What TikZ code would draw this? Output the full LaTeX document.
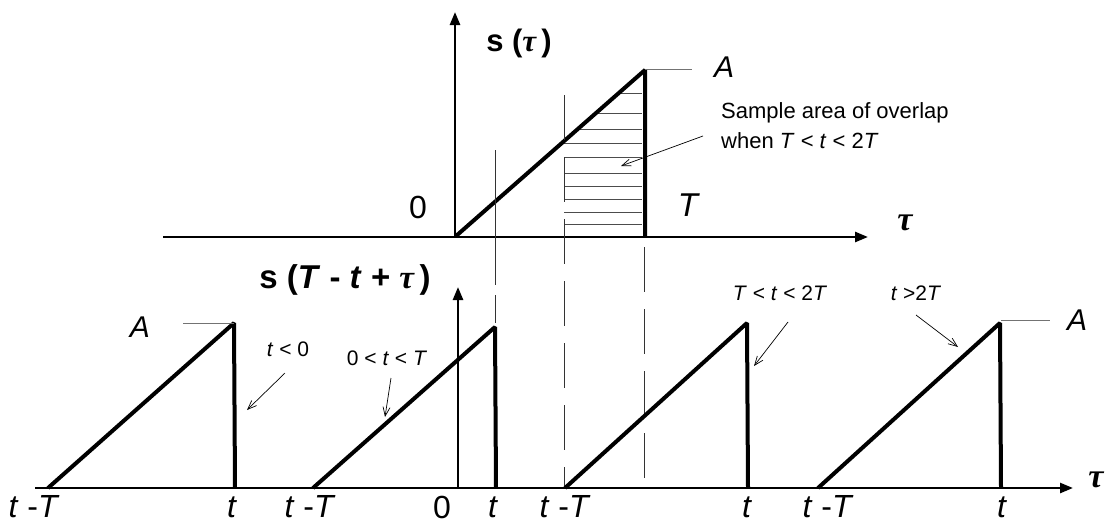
\documentclass[tikz,border=0pt]{standalone}
\usepackage{fontspec}
\setmainfont{Liberation Sans}
\newfontfamily\serifgr{Liberation Serif}
\usetikzlibrary{arrows.meta}
\newcommand{\tauit}{{\serifgr\bfseries\itshape τ}}
\begin{document}
\begin{tikzpicture}[x=1pt,y=-1pt,
  axis/.style={line width=2.5pt,-{Triangle[length=13pt,width=10pt]}},
  ramp/.style={line width=4pt,line join=bevel},
  guide/.style={line width=0.9pt,black!80,dash pattern=on 45pt off 17pt},
  hatch/.style={line width=0.9pt,black!70},
  lev/.style={line width=1pt,black!55},
  ptr/.style={line width=0.7pt,-{Straight Barb[length=9pt,width=7pt]}},
  big/.style={font=\fontsize{32}{38}\selectfont, inner sep=0pt},
  amp/.style={font=\fontsize{30}{36}\selectfont\itshape, inner sep=0pt},
  small/.style={font=\fontsize{21}{25}\selectfont, inner sep=0pt},
  title/.style={font=\fontsize{31}{36}\selectfont\bfseries, inner sep=0pt}
]
\useasboundingbox (0,0) rectangle (1105,525);

% ---------- top plot ----------
\coordinate (tl) at (163,237);
\coordinate (tr) at (868,237);
\coordinate (t0) at (455,237);
\coordinate (tu) at (455,12);
\draw[axis] (tl) -- (tr);
\draw[axis] (t0) -- (tu);

% hatching
\foreach \yy in {93,113,129,143,157,173,186,199,212,224}{
  \pgfmathsetmacro\xs{max(564,457+(235-\yy)/165*188)}
  \draw[hatch] (\xs,\yy) -- (642,\yy);
}

\coordinate (ts) at (456,236);
\coordinate (tp) at (645,70);
\coordinate (tb) at (645,237);
\draw[ramp] (ts) -- (tp) -- (tb);
\coordinate (tA) at (692,69);
\draw[lev] (645,69) -- (tA);

% guide lines
\coordinate (g1a) at (564,95);
\coordinate (g1b) at (564,488);
\draw[guide] (g1a) -- (g1b);
\coordinate (g2a) at (644,247);
\coordinate (g2b) at (644,488);
\draw[guide] (g2a) -- (g2b);
\coordinate (g3a) at (495,150);
\coordinate (g3m) at (495,257);
\coordinate (g3b) at (495,323);
\draw[line width=0.9pt,black!80] (g3a) -- (g3m);
\draw[guide,dash pattern=on 28pt off 10pt] (g3m) -- (g3b);

\node[title] (st) at (519,43) {s (\tauit\,)};
\node[big] (z0) at (418,207) {0};
\node[big,font=\fontsize{33}{38}\selectfont\itshape] (zT) at (688,205) {T};
\node[amp] (zA) at (724,67) {A};
\node[inner sep=0pt,font=\fontsize{34}{40}\selectfont] (ztau) at (905,223) {\tauit};
\node[small,font=\fontsize{22}{26}\selectfont,anchor=west] (samp1) at (721,113) {Sample area of overlap};
\node[small,font=\fontsize{22}{26}\selectfont,anchor=west] (samp2) at (721,141) {when \textit{T} < \textit{t} < 2\textit{T}};
\coordinate (sampt) at (621,166);
\draw[ptr] (703,136) -- (sampt);

% ---------- bottom plot ----------
\coordinate (bl) at (35,488);
\coordinate (br) at (1073,488);
\coordinate (b0) at (458,488);
\coordinate (bu) at (458,287);
\draw[axis] (bl) -- (br);
\draw[axis] (b0) -- (bu);

\draw[ramp] (48,488) coordinate (r1a) -- (234,323) coordinate (r1p) -- (235,488) coordinate (r1b);
\draw[ramp] (313,488) coordinate (r2a) -- (495,327) coordinate (r2p) -- (496,488) coordinate (r2b);
\draw[ramp] (565,488) coordinate (r3a) -- (747,323) coordinate (r3p) -- (748,488) coordinate (r3b);
\draw[ramp] (818,488) coordinate (r4a) -- (1000,323) coordinate (r4p) -- (1001,488) coordinate (r4b);
\draw[lev] (183,323) coordinate (l1) -- (r1p);
\draw[lev] (1001,320) -- (1050,320) coordinate (l4);

\node[title,font=\fontsize{33}{38}\selectfont\bfseries] (sb) at (345,280) {s (\textit{T} - \textit{t} + \tauit\,)};
\node[amp] (bA1) at (140,327) {A};
\node[amp] (bA2) at (1077,320) {A};
\node[inner sep=0pt,font=\fontsize{34}{40}\selectfont] (btau) at (1096,480) {\tauit};

\node[big] (x1) at (34,507) {\textit{t} -\textit{T}};
\node[big] (x2) at (232,507) {\textit{t}};
\node[big] (x3) at (310,507) {\textit{t} -\textit{T}};
\node[big] (x4) at (442,507) {0};
\node[big] (x5) at (493,507) {\textit{t}};
\node[big] (x6) at (565,507) {\textit{t} -\textit{T}};
\node[big] (x7) at (747,507) {\textit{t}};
\node[big] (x8) at (828,507) {\textit{t} -\textit{T}};
\node[big] (x9) at (1002,507) {\textit{t}};

\node[small] (c1) at (288,349) {\textit{t} < 0};
\node[small] (c2) at (387,358) {0 < \textit{t} < \textit{T}};
\node[small] (c3) at (780,293) {\textit{T} < \textit{t} < 2\textit{T}};
\node[small] (c4) at (916,293) {\textit{t} >2\textit{T}};
\coordinate (c1e) at (247,410);
\coordinate (c2e) at (385,417);
\coordinate (c3e) at (754,366);
\coordinate (c4e) at (958,347);
\draw[ptr] (285,373) -- (c1e);
\draw[ptr] (391,378) -- (c2e);
\draw[ptr] (788,322) -- (c3e);
\draw[ptr] (916,315) -- (c4e);
\end{tikzpicture}
\end{document}
